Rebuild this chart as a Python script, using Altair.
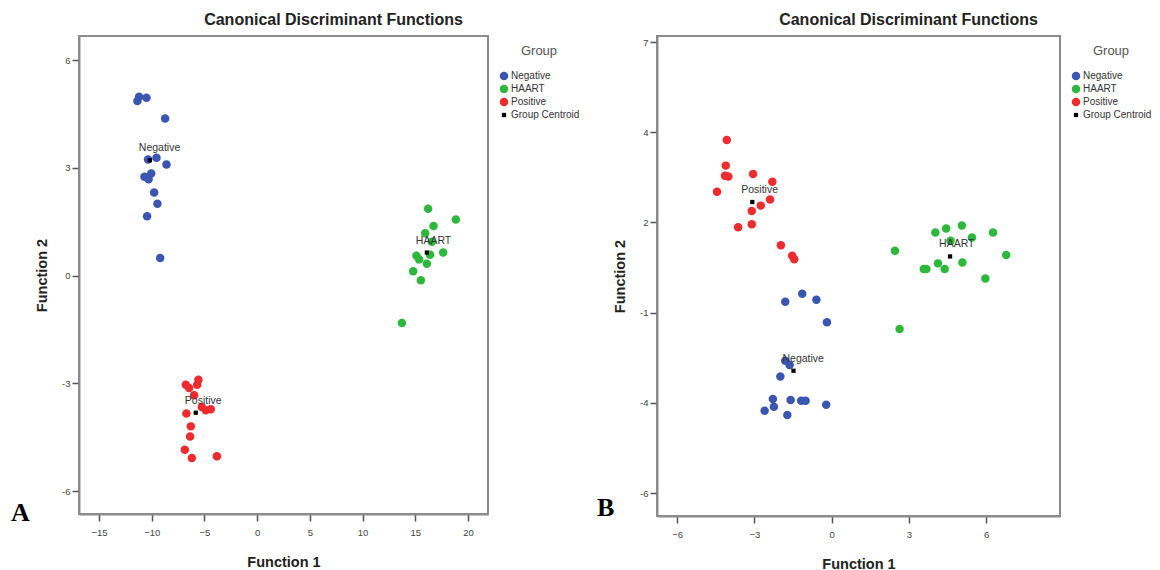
import altair as alt
import pandas as pd

GROUPS = ["Negative", "HAART", "Positive", "Group Centroid"]
COLORS = ["#3b56b0", "#2db83d", "#ee2b2f", "#000000"]
SHAPES = ["circle", "circle", "circle", "square"]
SIZES = [72, 72, 72, 18]

# ---- Panel A: discriminant scores ----
a_neg_x = [-11.36, -11.2, -10.5, -8.73, -10.35, -9.55, -8.6, -10.69, -10.3, -10.05, -9.77, -9.46, -10.44, -9.2]
a_neg_y = [4.86, 4.98, 4.95, 4.37, 3.23, 3.28, 3.09, 2.75, 2.68, 2.84, 2.31, 2.0, 1.65, 0.49]
a_haart_x = [16.22, 18.85, 16.73, 15.94, 16.57, 17.65, 16.41, 15.11, 15.37, 16.1, 14.8, 15.53, 13.73]
a_haart_y = [1.86, 1.56, 1.38, 1.18, 0.94, 0.64, 0.58, 0.55, 0.45, 0.33, 0.12, -0.13, -1.32]
a_pos_x = [-6.77, -6.45, -5.57, -5.69, -5.98, -5.25, -4.87, -4.4, -6.71, -6.29, -6.36, -6.86, -6.2, -3.82]
a_pos_y = [-3.04, -3.13, -2.9, -3.04, -3.33, -3.66, -3.75, -3.72, -3.84, -4.2, -4.48, -4.85, -5.08, -5.03]
a_cent_names = ["Negative", "HAART", "Positive"]
a_cent_x = [-10.18, 16.1, -5.82]
a_cent_y = [3.21, 0.64, -3.82]
a_xticks = [-15, -10, -5, 0, 5, 10, 15, 20]
a_yticks = [6, 3, 0, -3, -6]
a_ylabels = ["6", "3", "0", "-3", "-6"]

# ---- Panel B: discriminant scores ----
b_neg_x = [-1.14, -1.8, -0.59, -0.18, -1.8, -1.63, -1.99, -2.28, -2.24, -2.6, -1.59, -1.18, -1.01, -1.72, -0.21]
b_neg_y = [-1.37, -1.64, -1.57, -2.32, -3.6, -3.74, -4.12, -4.87, -5.13, -5.26, -4.9, -4.93, -4.93, -5.4, -5.06]
b_haart_x = [2.46, 4.03, 4.45, 5.06, 5.45, 6.27, 4.62, 6.78, 4.13, 5.08, 3.58, 3.68, 4.39, 5.97, 2.64]
b_haart_y = [0.06, 0.67, 0.8, 0.9, 0.5, 0.67, 0.39, -0.08, -0.36, -0.33, -0.55, -0.55, -0.55, -0.86, -2.54]
b_pos_x = [-4.07, -4.11, -4.14, -4.01, -3.05, -2.3, -4.45, -2.39, -2.75, -3.1, -3.1, -3.63, -1.97, -1.53, -1.45]
b_pos_y = [3.74, 2.89, 2.55, 2.53, 2.61, 2.35, 2.02, 1.76, 1.56, 1.38, 0.94, 0.84, 0.24, -0.11, -0.22]
b_cent_names = ["Positive", "HAART", "Negative"]
b_cent_x = [-3.08, 4.6, -1.48]
b_cent_y = [1.68, -0.13, -3.93]
b_xticks = [-6, -3, 0, 3, 6]
b_yticks = [7, 4, 1, -2, -5, -8]
b_ylabels = ["7", "4", "2", "-1", "-4", "-6"]

FONT = "Liberation Sans"


def scores(groups):
    rows = []
    for name, xs, ys in groups:
        for x, y in zip(xs, ys):
            rows.append({"f1": x, "f2": y, "group": name})
    return pd.DataFrame(rows)


def centroids(names, xs, ys):
    return pd.DataFrame({"f1": xs, "f2": ys, "name": names,
                         "group": ["Group Centroid"] * len(names)})


def label_expr(ticks, labels):
    parts = " : ".join(f"datum.value == {t} ? '{l}'" for t, l in zip(ticks, labels))
    return parts + " : ''"


def panel(pts, cents, xdom, ydom, xticks, yticks, ylabels, letter, w, h, lx, ly):
    x = alt.X("f1:Q", title="Function 1",
              scale=alt.Scale(domain=xdom, nice=False, zero=False),
              axis=alt.Axis(values=xticks, grid=False, titlePadding=19))
    y = alt.Y("f2:Q", title="Function 2",
              scale=alt.Scale(domain=ydom, nice=False, zero=False),
              axis=alt.Axis(values=yticks, grid=False, titlePadding=12,
                            labelExpr=label_expr(yticks, ylabels)))
    legend = alt.Legend(title="Group", orient="right", offset=7, padding=4,
                        titleAnchor="middle", titleFontWeight="normal",
                        titleFontSize=13, titleColor="#555", titleFont=FONT,
                        titleBaseline="line-top", titleLineHeight=22,
                        labelFontSize=10, labelColor="#333", labelFont=FONT,
                        rowPadding=3, titlePadding=18, labelOffset=2,
                        symbolStrokeWidth=0)
    color = alt.Color("group:N", scale=alt.Scale(domain=GROUPS, range=COLORS), legend=legend)
    shape = alt.Shape("group:N", scale=alt.Scale(domain=GROUPS, range=SHAPES), legend=legend)
    size = alt.Size("group:N", scale=alt.Scale(type="ordinal", domain=GROUPS, range=SIZES),
                    legend=legend)

    dots = alt.Chart(pts).mark_point(filled=True, opacity=1).encode(
        x=x, y=y, color=color, shape=shape, size=size)
    cent = alt.Chart(cents).mark_point(filled=True, opacity=1).encode(
        x=x, y=y, color=color, shape=shape, size=size)
    names = alt.Chart(cents).mark_text(
        align="left", baseline="middle", dx=-11, dy=-12, fontSize=10.5,
        color="#333", font=FONT).encode(x=x, y=y, text="name:N")
    tag = alt.Chart(pd.DataFrame({"t": [letter]})).mark_text(
        align="left", baseline="alphabetic", font="Liberation Serif",
        fontWeight="bold", fontSize=26, color="#000").encode(
        text="t:N", x=alt.value(lx), y=alt.value(ly))
    return alt.layer(dots, cent, names, tag).properties(
        width=w, height=h,
        title=alt.TitleParams("Canonical Discriminant Functions", fontSize=16,
                              fontWeight="bold", font=FONT, color="#222",
                              anchor="middle", dx=50, offset=8))


pts_a = scores([("Negative", a_neg_x, a_neg_y), ("HAART", a_haart_x, a_haart_y),
                ("Positive", a_pos_x, a_pos_y)])
pts_b = scores([("Negative", b_neg_x, b_neg_y), ("HAART", b_haart_x, b_haart_y),
                ("Positive", b_pos_x, b_pos_y)])

chart_a = panel(pts_a, centroids(a_cent_names, a_cent_x, a_cent_y),
                [-16.9, 21.9], [-6.64, 6.67], a_xticks, a_yticks, a_ylabels,
                "A", 409, 478, -68, 485)
chart_b = panel(pts_b, centroids(b_cent_names, b_cent_x, b_cent_y),
                [-6.78, 8.87], [-8.76, 7.2], b_xticks, b_yticks, b_ylabels,
                "B", 403, 480, -60, 480)

chart = alt.hconcat(chart_a, chart_b, spacing=11).resolve_scale(
    x="independent", y="independent", color="independent",
    shape="independent", size="independent"
).resolve_legend(
    color="independent", shape="independent", size="independent"
).configure(font=FONT, padding={"left": 10, "top": 11, "right": 0, "bottom": 0}).configure_view(
    stroke="#8c8c8c", strokeWidth=2
).configure_axis(
    domainColor="#8c8c8c", domainWidth=2, tickColor="#555", tickSize=7,
    tickWidth=1.5, labelFontSize=9.5, labelColor="#444", labelFont=FONT,
    titleFontSize=14.5, titleFontWeight="bold", titleColor="#222", titleFont=FONT
).configure_axisX(labelPadding=6).configure_axisY(labelPadding=2)

chart.save("out.html", embed_options={"renderer": "svg", "actions": False})
